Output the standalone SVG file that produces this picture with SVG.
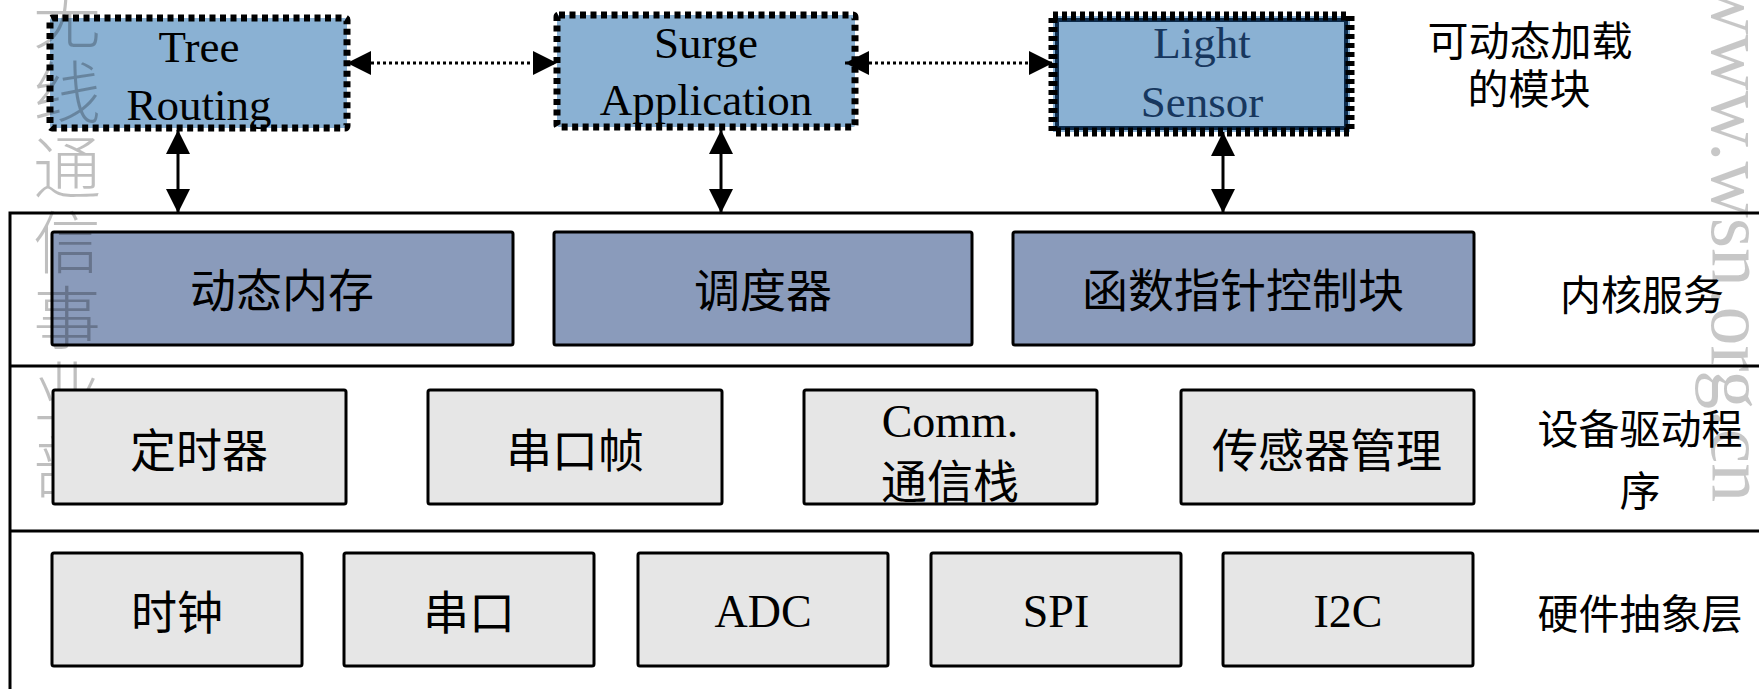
<svg xmlns="http://www.w3.org/2000/svg" width="1759" height="689" viewBox="0 0 1759 689">
  <style>
    .lat { font-family: "Liberation Serif", "Times New Roman", serif; font-size: 45px; fill: #000; text-anchor: middle; }
    .cjk { font-family: "Liberation Serif", "Noto Sans CJK SC", serif; font-size: 46px; fill: #000; text-anchor: middle; }
    .lbl { font-family: "Liberation Serif", "Noto Sans CJK SC", serif; font-size: 41px; fill: #000; text-anchor: middle; }
    .mod { fill: #8ab1d3; stroke: #000; stroke-width: 7; stroke-dasharray: 6 4.5; }
    .kern { fill: #8a9bbb; stroke: #000; stroke-width: 3; }
    .drv { fill: #e6e6e6; stroke: #000; stroke-width: 3; }
    .frame { stroke: #000; stroke-width: 3; fill: none; }
    .solid { stroke: #000; stroke-width: 3; fill: none; }
    .dotted { stroke: #000; stroke-width: 3; stroke-dasharray: 3 3; fill: none; }
    .wm { font-family: "Noto Sans CJK SC", sans-serif; font-size: 68px; font-weight: 300; fill: #000; fill-opacity: 0.25; writing-mode: vertical-rl; letter-spacing: 7px; }
    .wm2 { font-family: "Liberation Serif", serif; font-size: 78px; fill: #000; fill-opacity: 0.22; }
  </style>
  <defs>
    <marker id="arrow" viewBox="0 0 24 24" refX="24" refY="12" markerWidth="24" markerHeight="24" markerUnits="userSpaceOnUse" orient="auto-start-reverse">
      <path d="M0,0 L24,12 L0,24 z" fill="#000"/>
    </marker>
  </defs>

  <rect width="1759" height="689" fill="#fff"/>

  <!-- layer frame and dividers -->
  <g id="frame">
    <path class="frame" d="M10,689 V213 H1762"/>
    <line class="frame" x1="10" y1="366" x2="1762" y2="366"/>
    <line class="frame" x1="10" y1="531" x2="1762" y2="531"/>
  </g>

  <!-- loadable modules -->
  <g id="tree-routing">
    <rect class="mod" x="50" y="18" width="297" height="110" rx="2"/>
    <text class="lat" x="199" y="62">Tree</text>
    <text class="lat" x="199" y="120">Routing</text>
  </g>
  <g id="surge-application">
    <rect class="mod" x="557" y="15" width="298" height="112" rx="2"/>
    <text class="lat" x="706" y="58">Surge</text>
    <text class="lat" x="706" y="115">Application</text>
  </g>
  <g id="light-sensor">
    <rect x="1053" y="16" width="297" height="116" fill="#8ab1d3"/>
    <rect x="1057" y="20" width="289" height="108" fill="none" stroke="#0d2b4b" stroke-width="4"/>
    <rect x="1053" y="16" width="297" height="116" fill="none" stroke="#000" stroke-width="9" stroke-dasharray="5 4"/>
    <text class="lat" x="1202" y="58" style="fill:#17375e">Light</text>
    <text class="lat" x="1202" y="117" style="fill:#17375e">Sensor</text>
  </g>
  <g id="label-modules">
    <text class="lbl" x="1530" y="56">可动态加载</text>
    <text class="lbl" x="1529" y="104">的模块</text>
  </g>

  <!-- kernel services -->
  <g id="dynamic-memory">
    <rect class="kern" x="52" y="232" width="461" height="113" rx="2"/>
    <text class="cjk" x="282" y="307">动态内存</text>
  </g>
  <g id="scheduler">
    <rect class="kern" x="554" y="232" width="418" height="113" rx="2"/>
    <text class="cjk" x="763" y="307">调度器</text>
  </g>
  <g id="function-pointer-block">
    <rect class="kern" x="1013" y="232" width="461" height="113" rx="2"/>
    <text class="cjk" x="1243" y="307">函数指针控制块</text>
  </g>
  <g id="label-kernel">
    <text class="lbl" x="1642" y="310">内核服务</text>
  </g>

  <!-- watermark, left side -->
  <g id="watermark-left">
    <text class="wm" x="67" y="-17">无线通信事业部</text>
  </g>

  <!-- device drivers -->
  <g id="timer">
    <rect class="drv" x="53" y="390" width="293" height="114" rx="2"/>
    <text class="cjk" x="199" y="467">定时器</text>
  </g>
  <g id="uart-frame">
    <rect class="drv" x="428" y="390" width="294" height="114" rx="2"/>
    <text class="cjk" x="575" y="467">串口帧</text>
  </g>
  <g id="comm-stack">
    <rect class="drv" x="804" y="390" width="293" height="114" rx="2"/>
    <text class="lat" x="950" y="437" style="font-size:46px">Comm.</text>
    <text class="cjk" x="950" y="498">通信栈</text>
  </g>
  <g id="sensor-manager">
    <rect class="drv" x="1181" y="390" width="293" height="114" rx="2"/>
    <text class="cjk" x="1327" y="467">传感器管理</text>
  </g>
  <g id="label-drivers">
    <text class="lbl" x="1640" y="444">设备驱动程</text>
    <text class="lbl" x="1640" y="506">序</text>
  </g>

  <!-- hardware abstraction layer -->
  <g id="clock">
    <rect class="drv" x="52" y="553" width="250" height="113" rx="2"/>
    <text class="cjk" x="177" y="629">时钟</text>
  </g>
  <g id="uart">
    <rect class="drv" x="344" y="553" width="250" height="113" rx="2"/>
    <text class="cjk" x="469" y="629">串口</text>
  </g>
  <g id="adc">
    <rect class="drv" x="638" y="553" width="250" height="113" rx="2"/>
    <text class="lat" x="763" y="627" style="font-size:46px">ADC</text>
  </g>
  <g id="spi">
    <rect class="drv" x="931" y="553" width="250" height="113" rx="2"/>
    <text class="lat" x="1056" y="627" style="font-size:46px">SPI</text>
  </g>
  <g id="i2c">
    <rect class="drv" x="1223" y="553" width="250" height="113" rx="2"/>
    <text class="lat" x="1348" y="627" style="font-size:46px">I2C</text>
  </g>
  <g id="label-hal">
    <text class="lbl" x="1640" y="629">硬件抽象层</text>
  </g>

  <!-- connectors -->
  <g id="connectors">
    <line class="dotted" x1="347" y1="63" x2="557" y2="63" marker-start="url(#arrow)" marker-end="url(#arrow)"/>
    <line class="dotted" x1="845" y1="63" x2="1053" y2="63" marker-start="url(#arrow)" marker-end="url(#arrow)"/>
    <line class="solid" x1="178" y1="130" x2="178" y2="213" marker-start="url(#arrow)" marker-end="url(#arrow)"/>
    <line class="solid" x1="721" y1="130" x2="721" y2="213" marker-start="url(#arrow)" marker-end="url(#arrow)"/>
    <line class="solid" x1="1223" y1="132" x2="1223" y2="213" marker-start="url(#arrow)" marker-end="url(#arrow)"/>
  </g>

  <!-- watermark, right side -->
  <g id="watermark-right">
    <text class="wm2" transform="translate(1712,-22) rotate(90)">www.wsn.org.cn</text>
  </g>
</svg>
